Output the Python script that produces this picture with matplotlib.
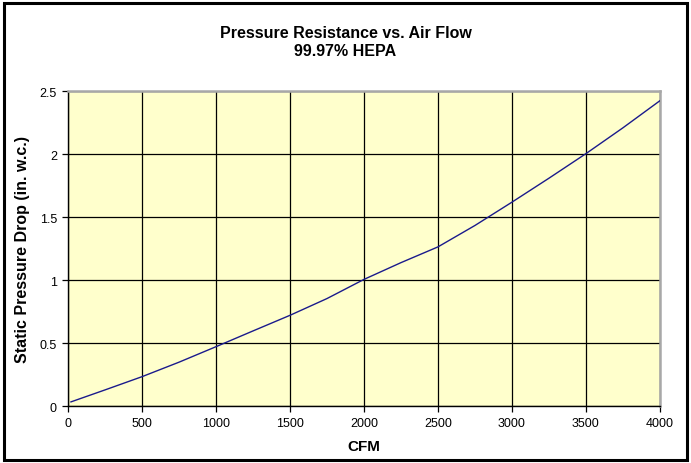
import matplotlib
matplotlib.use("Agg")
import matplotlib.pyplot as plt
from matplotlib.patches import Rectangle

plt.rcParams['font.family'] = ['Liberation Sans', 'DejaVu Sans']

cfm = [20, 250, 500, 750, 1000, 1250, 1500, 1750, 2000, 2250, 2500, 2750, 3000, 3250, 3500, 3750, 4000]
pressure = [0.035, 0.13, 0.235, 0.35, 0.473, 0.598, 0.722, 0.855, 1.007, 1.14, 1.265, 1.435, 1.62, 1.81, 2.005, 2.21, 2.425]
xticks = [0, 500, 1000, 1500, 2000, 2500, 3000, 3500, 4000]
yticks = [0, 0.5, 1, 1.5, 2, 2.5]

fig = plt.figure(figsize=(6.91, 4.64), dpi=100)
ax = fig.add_axes([0.0984, 0.1222, 0.8566, 0.6789])

# outer chart border
fig.patches.append(Rectangle((0.006, 0.006), 0.988, 0.985, transform=fig.transFigure,
                             fill=False, edgecolor='black', linewidth=2.2))

ax.set_facecolor('#FFFFCC')
ax.plot(cfm, pressure, color='#1a1a8c', linewidth=1.0, zorder=3)

ax.set_xlim(0, 4000)
ax.set_ylim(0, 2.5)
ax.set_xticks(xticks)
ax.set_yticks(yticks)
ax.set_yticklabels(['0', '0.5', '1', '1.5', '2', '2.5'])
ax.grid(True, color='black', linewidth=0.9)
ax.set_axisbelow(True)
ax.tick_params(direction='out', length=4, width=0.9, labelsize=9, pad=4)

for s in ['top', 'right']:
    ax.spines[s].set_color('#a8a8a8')
    ax.spines[s].set_linewidth(1.8)
for s in ['left', 'bottom']:
    ax.spines[s].set_color('black')
    ax.spines[s].set_linewidth(1.0)

ax.set_xlabel('CFM', fontsize=11, fontweight='bold', labelpad=7)
ax.set_ylabel('Static Pressure Drop (in. w.c.)', fontsize=11.5, fontweight='bold', labelpad=7)
fig.text(0.5, 0.908, 'Pressure Resistance vs. Air Flow\n99.97% HEPA', ha='center', va='center',
         fontsize=11.5, fontweight='bold', linespacing=1.2)

fig.savefig('out.png', dpi=100)
